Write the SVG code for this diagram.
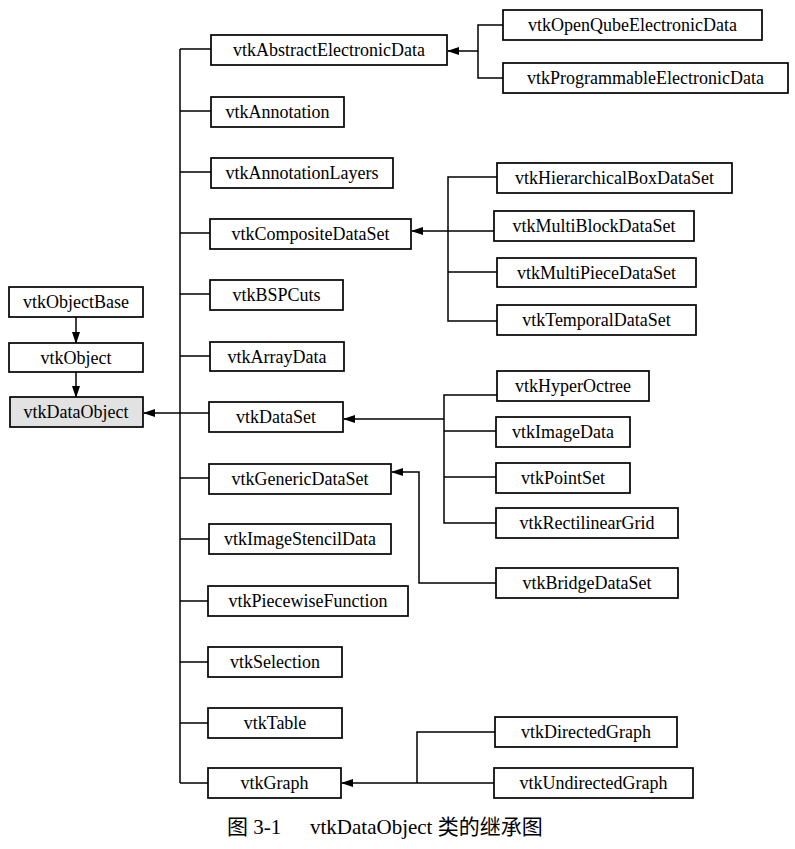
<svg xmlns="http://www.w3.org/2000/svg" width="795" height="849" viewBox="0 0 795 849">
<style>
.box{fill:#fff;stroke:#000;stroke-width:1.7}
.gray{fill:#e2e2e2}
.t{font-family:"Liberation Serif","Times New Roman",serif;font-size:18px;text-anchor:middle;fill:#000}
.c{fill:none;stroke:#000;stroke-width:1.5}
.cap{font-family:"Liberation Serif","Noto Sans CJK SC",serif;font-size:21px;fill:#000}
</style>
<defs>
<marker id="ah" markerUnits="userSpaceOnUse" markerWidth="12" markerHeight="8" refX="11" refY="4" orient="auto">
<path d="M0,0 L12,4 L0,8 Z" fill="#000"/>
</marker>
</defs>
<rect width="795" height="849" fill="#fff"/>
<g id="connectors">
<path class="c" d="M76,317 V343" marker-end="url(#ah)"/>
<path class="c" d="M76,372 V397" marker-end="url(#ah)"/>
<path class="c" d="M180,49 V783"/>
<path class="c" d="M180,49 H211 M180,111 H211 M180,172 H211 M180,233 H210 M180,294 H210 M180,356 H210 M180,478 H209 M180,539 H209 M180,601 H208 M180,662 H208 M180,723 H208 M180,783 H208"/>
<path class="c" d="M209,413 H144" marker-end="url(#ah)"/>
<path class="c" d="M503,25 H478 V78 H503"/>
<path class="c" d="M478,51 H448" marker-end="url(#ah)"/>
<path class="c" d="M497,177 H448 V321 H497 M448,272 H497"/>
<path class="c" d="M494,231 H412" marker-end="url(#ah)"/>
<path class="c" d="M497,395 H444 V523 H496 M444,431 H496 M444,477 H496"/>
<path class="c" d="M444,419 H344" marker-end="url(#ah)"/>
<path class="c" d="M496,583 H419 V472 H392" marker-end="url(#ah)"/>
<path class="c" d="M495,732 H417 V783"/>
<path class="c" d="M494,783 H342" marker-end="url(#ah)"/>
</g>
<g id="vtkObjectBase"><rect class="box" x="9" y="287" width="134" height="30"/><text class="t" x="76" y="308">vtkObjectBase</text></g>
<g id="vtkObject"><rect class="box" x="9" y="343" width="134" height="29"/><text class="t" x="76" y="364">vtkObject</text></g>
<g id="vtkDataObject"><rect class="box gray" x="10" y="397" width="133" height="30"/><text class="t" x="76" y="418">vtkDataObject</text></g>
<g id="vtkAbstractElectronicData"><rect class="box" x="211" y="35" width="236" height="30"/><text class="t" x="329" y="56">vtkAbstractElectronicData</text></g>
<g id="vtkAnnotation"><rect class="box" x="211" y="97" width="133" height="30"/><text class="t" x="277.5" y="118">vtkAnnotation</text></g>
<g id="vtkAnnotationLayers"><rect class="box" x="211" y="158" width="182" height="30"/><text class="t" x="302" y="179">vtkAnnotationLayers</text></g>
<g id="vtkCompositeDataSet"><rect class="box" x="210" y="219" width="201" height="30"/><text class="t" x="310.5" y="240">vtkCompositeDataSet</text></g>
<g id="vtkBSPCuts"><rect class="box" x="210" y="280" width="133" height="30"/><text class="t" x="276.5" y="301">vtkBSPCuts</text></g>
<g id="vtkArrayData"><rect class="box" x="210" y="342" width="134" height="29"/><text class="t" x="277" y="363">vtkArrayData</text></g>
<g id="vtkDataSet"><rect class="box" x="209" y="402" width="134" height="30"/><text class="t" x="276" y="423">vtkDataSet</text></g>
<g id="vtkGenericDataSet"><rect class="box" x="209" y="464" width="182" height="30"/><text class="t" x="300" y="485">vtkGenericDataSet</text></g>
<g id="vtkImageStencilData"><rect class="box" x="209" y="524" width="182" height="30"/><text class="t" x="300" y="545">vtkImageStencilData</text></g>
<g id="vtkPiecewiseFunction"><rect class="box" x="208" y="586" width="200" height="30"/><text class="t" x="308" y="607">vtkPiecewiseFunction</text></g>
<g id="vtkSelection"><rect class="box" x="208" y="647" width="134" height="30"/><text class="t" x="275" y="668">vtkSelection</text></g>
<g id="vtkTable"><rect class="box" x="208" y="708" width="134" height="30"/><text class="t" x="275" y="729">vtkTable</text></g>
<g id="vtkGraph"><rect class="box" x="208" y="768" width="133" height="30"/><text class="t" x="274.5" y="789">vtkGraph</text></g>
<g id="vtkOpenQubeElectronicData"><rect class="box" x="503" y="10" width="259" height="30"/><text class="t" x="632.5" y="31">vtkOpenQubeElectronicData</text></g>
<g id="vtkProgrammableElectronicData"><rect class="box" x="503" y="63" width="285" height="30"/><text class="t" x="645.5" y="84">vtkProgrammableElectronicData</text></g>
<g id="vtkHierarchicalBoxDataSet"><rect class="box" x="497" y="163" width="235" height="30"/><text class="t" x="614.5" y="184">vtkHierarchicalBoxDataSet</text></g>
<g id="vtkMultiBlockDataSet"><rect class="box" x="494" y="211" width="200" height="30"/><text class="t" x="594" y="232">vtkMultiBlockDataSet</text></g>
<g id="vtkMultiPieceDataSet"><rect class="box" x="497" y="258" width="199" height="29"/><text class="t" x="596.5" y="279">vtkMultiPieceDataSet</text></g>
<g id="vtkTemporalDataSet"><rect class="box" x="497" y="305" width="199" height="30"/><text class="t" x="596.5" y="326">vtkTemporalDataSet</text></g>
<g id="vtkHyperOctree"><rect class="box" x="497" y="371" width="152" height="30"/><text class="t" x="573" y="392">vtkHyperOctree</text></g>
<g id="vtkImageData"><rect class="box" x="496" y="417" width="134" height="30"/><text class="t" x="563" y="438">vtkImageData</text></g>
<g id="vtkPointSet"><rect class="box" x="496" y="463" width="134" height="30"/><text class="t" x="563" y="484">vtkPointSet</text></g>
<g id="vtkRectilinearGrid"><rect class="box" x="496" y="508" width="182" height="30"/><text class="t" x="587" y="529">vtkRectilinearGrid</text></g>
<g id="vtkBridgeDataSet"><rect class="box" x="496" y="568" width="182" height="30"/><text class="t" x="587" y="589">vtkBridgeDataSet</text></g>
<g id="vtkDirectedGraph"><rect class="box" x="495" y="717" width="182" height="30"/><text class="t" x="586" y="738">vtkDirectedGraph</text></g>
<g id="vtkUndirectedGraph"><rect class="box" x="494" y="768" width="199" height="30"/><text class="t" x="593.5" y="789">vtkUndirectedGraph</text></g>
<g id="caption">
<text class="cap" x="227" y="834">图 3-1</text>
<text class="cap" x="310" y="834">vtkDataObject 类的继承图</text>
</g>
</svg>
